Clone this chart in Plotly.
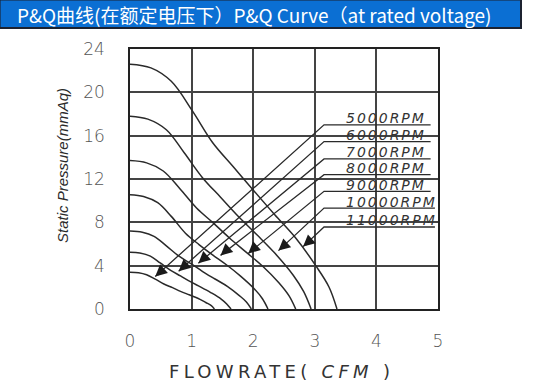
import plotly.graph_objects as go

# ---- data ----
rpm_labels = ["5000RPM", "6000RPM", "7000RPM", "8000RPM", "9000RPM", "10000RPM", "11000RPM"]

q5000 = [0, 0.14, 0.27, 0.41, 0.55, 0.69, 0.82, 0.96, 1.10, 1.23, 1.32, 1.37]
p5000 = [3.4, 3.35, 3.16, 2.75, 2.31, 1.97, 1.63, 1.31, 0.99, 0.60, 0.31, 0]
q6000 = [0, 0.16, 0.33, 0.49, 0.66, 0.82, 0.98, 1.15, 1.31, 1.48, 1.57, 1.64]
p6000 = [5.25, 5.17, 4.88, 4.25, 3.57, 3.05, 2.52, 2.02, 1.52, 0.92, 0.47, 0]
q7000 = [0, 0.2, 0.39, 0.59, 0.79, 0.99, 1.18, 1.38, 1.58, 1.77, 1.89, 1.97]
p7000 = [7.2, 7.09, 6.7, 5.83, 4.9, 4.18, 3.46, 2.77, 2.09, 1.26, 0.65, 0]
q8000 = [0, 0.22, 0.45, 0.67, 0.90, 1.12, 1.34, 1.57, 1.79, 2.02, 2.15, 2.24]
p8000 = [10.55, 10.39, 9.81, 8.55, 7.0, 5.95, 5.0, 4.06, 3.06, 1.85, 0.95, 0]
q9000 = [0, 0.27, 0.54, 0.81, 1.08, 1.35, 1.61, 1.88, 2.15, 2.42, 2.58, 2.69]
p9000 = [13.7, 13.49, 12.74, 11.1, 9.32, 7.95, 6.58, 5.27, 3.97, 2.4, 1.23, 0]
q10000 = [0, 0.29, 0.59, 0.88, 1.18, 1.47, 1.76, 2.06, 2.35, 2.65, 2.82, 2.94]
p10000 = [17.8, 17.53, 16.55, 14.42, 12.1, 10.32, 8.54, 6.85, 5.16, 3.12, 1.6, 0]
q11000 = [0, 0.34, 0.67, 1.01, 1.34, 1.68, 2.02, 2.35, 2.69, 3.02, 3.23, 3.36]
p11000 = [22.6, 22.26, 21.02, 18.31, 15.37, 13.11, 10.85, 8.7, 6.55, 3.96, 2.03, 0]

curves_q = [q5000, q6000, q7000, q8000, q9000, q10000, q11000]
curves_p = [p5000, p6000, p7000, p8000, p9000, p10000, p11000]

# leader lines: arrow tip on the curve, knee, and end of underline
tip_q = [0.41, 0.79, 1.11, 1.47, 1.92, 2.41, 2.81]
tip_p = [3.0, 3.49, 4.23, 4.95, 5.13, 5.39, 5.76]
knee_q = [3.15, 3.15, 3.15, 3.15, 3.15, 3.15, 3.15]
knee_p = [17.0, 15.45, 13.85, 12.4, 10.86, 9.32, 7.57]
end_q = [4.88, 4.88, 4.88, 4.88, 4.88, 4.95, 4.95]

x_ticks = [0, 1, 2, 3, 4, 5]
y_ticks = [0, 4, 8, 12, 16, 20, 24]

title_text = "P&Q曲线(在额定电压下）P&Q Curve（at rated voltage)"

fig = go.Figure()

for q, p in zip(curves_q, curves_p):
    fig.add_trace(go.Scatter(x=q, y=p, mode="lines",
                             line=dict(color="#2a2a2a", width=1.5, shape="spline", smoothing=1.0),
                             hoverinfo="skip", showlegend=False))

for i in range(len(rpm_labels)):
    fig.add_trace(go.Scatter(x=[tip_q[i], knee_q[i], end_q[i]],
                             y=[tip_p[i], knee_p[i], knee_p[i]],
                             mode="lines", line=dict(color="#2a2a2a", width=1.3),
                             hoverinfo="skip", showlegend=False))

annotations = []
for i, lab in enumerate(rpm_labels):
    annotations.append(dict(x=3.47, y=knee_p[i] + 0.6, xref="x", yref="y",
                            text='<span style="letter-spacing:2px">' + lab + '</span>',
                            showarrow=False, xanchor="left", yanchor="middle",
                            font=dict(family="DejaVu Sans", size=14, color="#333", style="italic")))
    annotations.append(dict(x=tip_q[i], y=tip_p[i], xref="x", yref="y", text="",
                            showarrow=True, ax=9, ay=-8, arrowhead=2, arrowsize=0.9,
                            arrowwidth=2.6, arrowcolor="#1a1a1a", standoff=0, startstandoff=0))

# title text
annotations.append(dict(x=-0.3734, y=1.1346, xref="paper", yref="paper", text=title_text,
                        showarrow=False, xanchor="left", yanchor="middle",
                        font=dict(family="Noto Sans CJK SC", size=19, color="white")))
# axis titles
annotations.append(dict(x=-0.2208, y=0.5538, xref="paper", yref="paper",
                        text="Static Pressure(mmAq)", textangle=-90, showarrow=False,
                        xanchor="center", yanchor="middle",
                        font=dict(family="Liberation Sans", size=15, color="#2a2a2a", style="italic")))
annotations.append(dict(x=0.4935, y=-0.2423, xref="paper", yref="paper",
                        text='<span style="letter-spacing:4.3px">FLOWRATE( <i>CFM</i> )</span>',
                        showarrow=False, xanchor="center", yanchor="middle",
                        font=dict(family="DejaVu Sans", size=18, color="#333")))

shapes = [dict(type="rect", xref="paper", yref="paper", x0=-0.4235, x1=1.2695, y0=1.0808, y1=1.19,
               fillcolor="#0b6fd3", line=dict(color="#1c2230", width=2), layer="above")]

fig.update_layout(
    width=543, height=389,
    margin=dict(l=130, r=105, t=49, b=80),
    paper_bgcolor="white", plot_bgcolor="white",
    showlegend=False,
    annotations=annotations, shapes=shapes,
    xaxis=dict(range=[0, 5], tickvals=x_ticks, showgrid=True, gridcolor="#444", gridwidth=1.5,
               showline=True, mirror=True, linecolor="#222", linewidth=1.5, zeroline=False,
               ticks="", ticklabelstandoff=16, automargin=False,
               tickfont=dict(family="DejaVu Sans", size=17, color="#555", weight=300)),
    yaxis=dict(range=[0, 24], tickvals=y_ticks, showgrid=True, gridcolor="#444", gridwidth=1.5,
               showline=True, mirror=True, linecolor="#222", linewidth=1.5, zeroline=False,
               ticks="", ticklabelstandoff=20, automargin=False,
               tickfont=dict(family="DejaVu Sans", size=17, color="#555", weight=300)),
)

fig.write_html("out.html", config={"displayModeBar": False},
               post_script="document.body.style.margin='0';document.body.style.padding='0';")
